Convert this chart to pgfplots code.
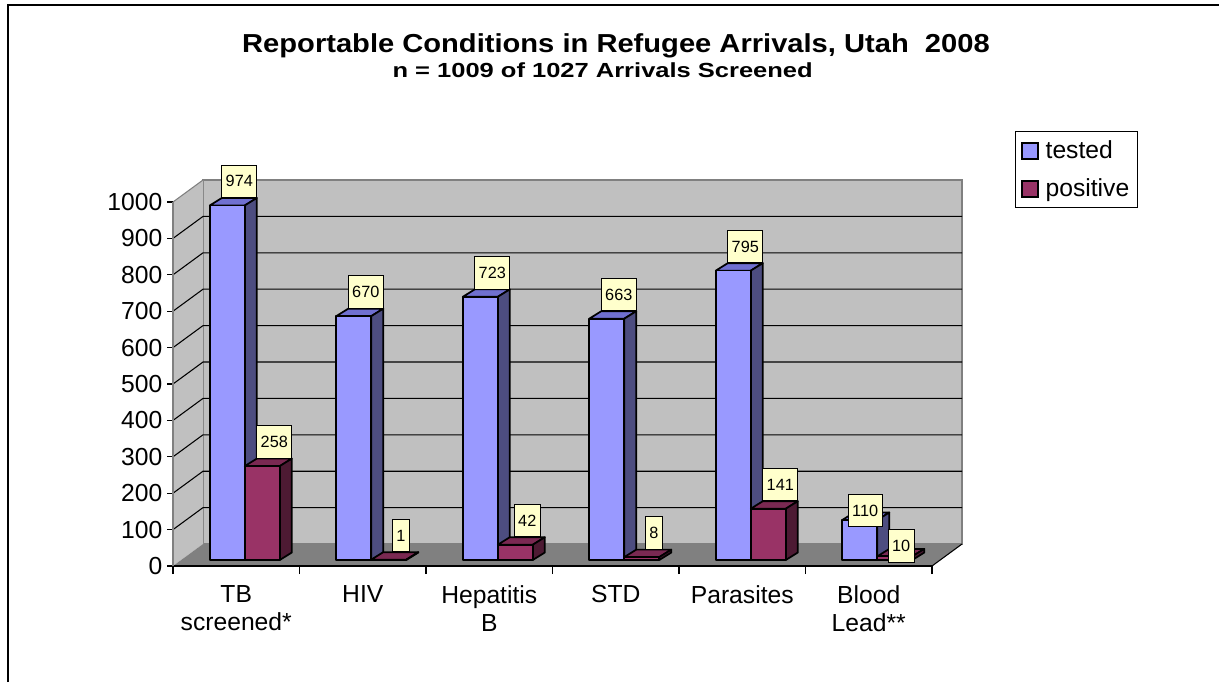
\documentclass[border=0pt]{standalone}
\usepackage{pgfplots}
\pgfplotsset{compat=1.18}
\usepackage{pgfplotstable}
\usepackage{fontspec}
\setmainfont{Liberation Sans}
\newfontfamily\titlefont[FakeStretch=1.12]{Liberation Sans}
\newfontfamily\subtitlefont[FakeStretch=1.25]{Liberation Sans}
\definecolor{testedF}{HTML}{9999FF}
\definecolor{testedT}{HTML}{7070D0}
\definecolor{testedS}{HTML}{4D4D80}
\definecolor{posF}{HTML}{993366}
\definecolor{posT}{HTML}{7A2952}
\definecolor{posS}{HTML}{4D1A33}
\definecolor{wall}{HTML}{C0C0C0}
\definecolor{floorc}{HTML}{808080}
\definecolor{lab}{HTML}{FFFFCC}
\pgfdeclareplotmark{nothing}{}

% x = category centre, v = value, lx/ly = label offset (pt)
\pgfplotstableread{
x v lx ly
0.5 974 0 0
1.5 670 0 0
2.5 723 0 0
3.5 663 0 0
4.5 795 0 0
5.5 110 -5 -11
}\tested
\pgfplotstableread{
x v lx ly
0.5 258 0 0
1.5 1 0 0
2.5 42 0 0
3.5 8 0 0
4.5 141 0 0
5.5 10 -4.3 -10.5
}\positive

% prism drawn at the data point (front plane, top of bar)
\newcommand\prismcode[4]{%
  \dimen0=\val pt \dimen0=0.273\dimen0 \edef\h{\the\dimen0}%
  \dimen2=\lx pt \edef\dlx{\the\dimen2}%
  \dimen2=\ly pt \edef\dly{\the\dimen2}%
  \pgfmathsetlengthmacro\L{#1-13.125pt+6.4pt}%
  \pgfmathsetlengthmacro\R{#1+13.125pt+6.4pt}%
  \pgfmathsetlengthmacro\Rb{#1+13.125pt+6.4pt+9pt}%
  \pgfmathsetlengthmacro\Lb{#1-13.125pt+6.4pt+9pt}%
  \pgfmathsetlengthmacro\B{4.5pt-\h}%
  \pgfmathsetlengthmacro\Bb{4.5pt-\h+5.6pt}%
  \pgfmathsetlengthmacro\LX{#1+6.4pt+9pt+\dlx}%
  \pgfmathsetlengthmacro\LY{4.5pt+5.6pt+\dly}%
  \path[fill=#3, draw=black, line width=1.3pt, line join=round]
    (\L,4.5pt) -- (\R,4.5pt) -- (\Rb,10.1pt) -- (\Lb,10.1pt) -- cycle;
  \path[fill=#4, draw=black, line width=1.3pt, line join=round]
    (\R,\B) -- (\R,4.5pt) -- (\Rb,10.1pt) -- (\Rb,\Bb) -- cycle;
  \path[fill=#2, draw=black, line width=1.3pt, line join=round]
    (\L,\B) rectangle (\R,4.5pt);
  \node[anchor=south, fill=lab, draw=black, line width=0.6pt, inner xsep=3pt,
        inner ysep=0pt, minimum height=24.5pt,
        font=\fontsize{12.2}{14}\selectfont] at (\LX,\LY)
        {\pgfmathprintnumber[fixed,precision=0,assume math mode=true]{\val}};
}
\pgfplotsset{prism/.style n args={4}{scatter, only marks, mark=nothing, forget plot,
  visualization depends on={rawy\as\val},
  visualization depends on={\thisrow{lx}\as\lx},
  visualization depends on={\thisrow{ly}\as\ly},
  scatter/@pre marker code/.code={\prismcode{#1}{#2}{#3}{#4}},
  scatter/@post marker code/.code={}}}

\begin{document}
\begin{tikzpicture}
\path[use as bounding box] (0,0) rectangle (914.25pt,511.5pt);
\draw[line width=1.5pt] (6.2pt,0) -- (6.2pt,507.75pt) -- (914.25pt,507.75pt);
\begin{axis}[
  at={(129.75pt,87pt)}, anchor=south west,
  scale only axis, width=569.25pt, height=273pt,
  xmin=0, xmax=6, ymin=0, ymax=1000,
  clip=false, axis on top,
  axis x line=bottom, axis y line=left,
  x axis line style={-, black, line width=1pt},
  y axis line style={-, floorc, line width=1pt},
  xtick={0.5,1.5,2.5,3.5,4.5,5.5},
  xticklabels={TB\\screened*,HIV,Hepatitis\\B,STD,Parasites,Blood\\Lead**},
  minor xtick={0,1,2,3,4,5,6},
  major x tick style={draw=none},
  minor x tick style={black, line width=0.8pt},
  ytick={0,100,...,1000},
  y tick style={black, line width=0.8pt},
  tick align=outside,
  major tick length=4.5pt, minor tick length=6pt,
  /pgf/number format/1000 sep={},
  /pgf/number format/assume math mode=true,
  tick label style={font=\fontsize{18.5}{21.2}\selectfont},
  xticklabel style={align=center, yshift=-6.75pt},
  legend style={at={(1.1094,1.195)}, anchor=north west, draw=black, line width=0.8pt,
    font=\fontsize{18.5}{22}\selectfont, inner xsep=4pt, inner ysep=5pt,
    row sep=9.5pt, cells={anchor=west}},
]
\addlegendimage{legend image code/.code={\draw[fill=testedF, line width=1.3pt] (0pt,-6pt) rectangle (12pt,6pt); \path (15.5pt,0pt);}}
\addlegendentry{tested}
\addlegendimage{legend image code/.code={\draw[fill=posF, line width=1.3pt] (0pt,-6pt) rectangle (12pt,6pt); \path (15.5pt,0pt);}}
\addlegendentry{positive}

% walls and floor
\addplot[forget plot, fill=wall, draw=floorc, line width=0.8pt]
  coordinates {(0.2372,60.4) (6.2372,60.4) (6.2372,1060.4) (0.2372,1060.4) (0.2372,60.4)};
\addplot[forget plot, fill=wall, draw=none]
  coordinates {(0,0) (0.2372,60.4) (0.2372,1060.4) (0,1000) (0,0)};
\addplot[forget plot, draw=floorc, line width=0.8pt]
  coordinates {(0,1000) (0.2372,1060.4)};
\addplot[forget plot, fill=floorc, draw=none]
  coordinates {(0,0) (6,0) (6.2372,60.4) (0.2372,60.4) (0,0)};
\addplot[forget plot, black, line width=0.8pt]
  coordinates {(6,0) (6.2372,60.4)};
\addplot[forget plot, black, line width=0.8pt, unbounded coords=jump]
  coordinates {(0,100) (0.2372,160.4) (6.2372,160.4) (0,nan)
               (0,200) (0.2372,260.4) (6.2372,260.4) (0,nan)
               (0,300) (0.2372,360.4) (6.2372,360.4) (0,nan)
               (0,400) (0.2372,460.4) (6.2372,460.4) (0,nan)
               (0,500) (0.2372,560.4) (6.2372,560.4) (0,nan)
               (0,600) (0.2372,660.4) (6.2372,660.4) (0,nan)
               (0,700) (0.2372,760.4) (6.2372,760.4) (0,nan)
               (0,800) (0.2372,860.4) (6.2372,860.4) (0,nan)
               (0,900) (0.2372,960.4) (6.2372,960.4)};

% bars
\addplot[prism={-13.125pt}{testedF}{testedT}{testedS}] table[x=x, y=v] {\tested};
\addplot[prism={13.125pt}{posF}{posT}{posS}] table[x=x, y=v] {\positive};
\end{axis}
\node[anchor=base, font=\titlefont\bfseries\fontsize{19.5}{22}\selectfont]
  at (462pt,472.3pt) {Reportable Conditions in Refugee Arrivals, Utah~~2008};
\node[anchor=base, font=\subtitlefont\bfseries\fontsize{15.3}{17}\selectfont]
  at (452pt,453.5pt) {n = 1009 of 1027 Arrivals Screened};
\end{tikzpicture}
\end{document}
